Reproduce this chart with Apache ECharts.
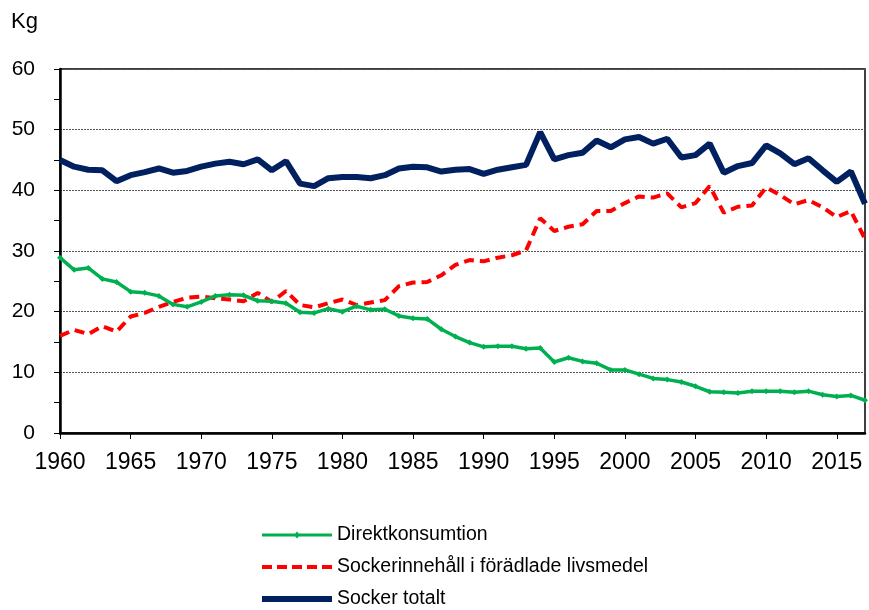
<!DOCTYPE html>
<html>
<head>
<meta charset="utf-8">
<script src="https://cdn.jsdelivr.net/npm/echarts@6/dist/echarts.min.js"></script>
<style>
  html, body { margin: 0; padding: 0; background: #fff; }
  #chart { width: 869px; height: 610px; }
</style>
</head>
<body>
<div id="chart"></div>
<script>
// years 1960..2017
const years = [];
for (let y = 1960; y <= 2017; y++) years.push(String(y));

// Direktkonsumtion (kg)
const direkt = [
  28.9, 26.9, 27.2, 25.4, 24.9, 23.3, 23.1, 22.6, 21.2, 20.8,
  21.6, 22.6, 22.8, 22.7, 21.8, 21.7, 21.4, 19.9, 19.8, 20.5,
  20.0, 20.9, 20.3, 20.4, 19.3, 18.9, 18.8, 17.1, 15.9, 14.9,
  14.2, 14.3, 14.3, 13.9, 14.0, 11.7, 12.4, 11.8, 11.5, 10.4,
  10.4, 9.7, 9.0, 8.8, 8.4, 7.7, 6.8, 6.7, 6.6, 6.9,
  6.9, 6.9, 6.7, 6.9, 6.3, 6.0, 6.2, 5.4
];

// Sockerinnehåll i förädlade livsmedel (kg)
const foradlade = [
  16.0, 17.0, 16.3, 17.6, 16.7, 19.2, 19.8, 20.8, 21.6, 22.3,
  22.5, 22.2, 22.0, 21.7, 23.1, 21.6, 23.4, 21.1, 20.7, 21.4,
  22.0, 21.1, 21.5, 21.9, 24.2, 24.8, 24.9, 26.0, 27.7, 28.5,
  28.3, 28.9, 29.3, 30.1, 35.4, 33.3, 34.0, 34.4, 36.6, 36.6,
  37.9, 39.0, 38.8, 39.5, 37.2, 37.9, 40.7, 36.3, 37.3, 37.5,
  40.5, 39.2, 37.7, 38.4, 37.2, 35.6, 36.6, 32.0
];

// Socker totalt (kg)
const totalt = [
  45.0, 43.9, 43.4, 43.3, 41.5, 42.5, 43.0, 43.6, 42.9, 43.2,
  43.9, 44.4, 44.7, 44.3, 45.1, 43.3, 44.8, 41.1, 40.7, 42.0,
  42.2, 42.2, 42.0, 42.5, 43.6, 43.9, 43.8, 43.1, 43.4, 43.5,
  42.7, 43.4, 43.8, 44.2, 49.6, 45.1, 45.8, 46.2, 48.2, 47.1,
  48.4, 48.8, 47.7, 48.5, 45.4, 45.8, 47.7, 42.9, 44.0, 44.5,
  47.4, 46.1, 44.3, 45.3, 43.3, 41.4, 43.1, 37.8
];

const seriesNames = ['Direktkonsumtion', 'Sockerinnehåll i förädlade livsmedel', 'Socker totalt'];
const colors = ['#00B050', '#FF0000', '#002060'];

// legend icons (line samples) as paths
const greenIcon = 'path://M0,5.5L70,5.5L70,8.5L0,8.5Z M35,3.5L38,7L35,10.5L32,7Z';
let redIcon = 'path://';
for (let x = 0; x < 70; x += 15) {
  const e = Math.min(x + 10, 70);
  redIcon += 'M' + x + ',5L' + e + ',5L' + e + ',9L' + x + ',9Z ';
}
const navyIcon = 'path://M0,4L70,4L70,10L0,10Z';

const chart = echarts.init(document.getElementById('chart'));
const font = 'Liberation Sans, Arial, sans-serif';

chart.setOption({
  animation: false,
  backgroundColor: '#fff',
  title: {
    text: 'Kg',
    left: 6,
    top: 6,
    textStyle: { fontFamily: font, fontSize: 22, fontWeight: 'normal', color: '#000' }
  },
  grid: {
    left: 60, right: 4, top: 69, bottom: 177,
    show: true, borderColor: '#000', borderWidth: 1.5
  },
  legend: {
    orient: 'vertical',
    left: 262,
    top: 525,
    padding: 0,
    itemGap: 12,
    itemWidth: 70,
    itemHeight: 14,
    symbolKeepAspect: true,
    data: [
      { name: seriesNames[0], icon: greenIcon, itemStyle: { color: colors[0], borderWidth: 0 } },
      { name: seriesNames[1], icon: redIcon, itemStyle: { color: colors[1], borderWidth: 0 } },
      { name: seriesNames[2], icon: navyIcon, itemStyle: { color: colors[2], borderWidth: 0 } }
    ],
    textStyle: { fontFamily: font, fontSize: 19.5, lineHeight: 20, color: '#000' }
  },
  xAxis: {
    type: 'category',
    data: years,
    boundaryGap: false,
    axisLine: { lineStyle: { color: '#000', width: 2.5 } },
    axisTick: { interval: 4, length: 6, lineStyle: { color: '#000' } },
    axisLabel: { interval: 4, fontFamily: font, fontSize: 23, color: '#000', margin: 18 },
    splitLine: { show: false }
  },
  yAxis: {
    type: 'value',
    min: 0, max: 60, interval: 10,
    axisLine: { show: true, lineStyle: { color: '#000', width: 2.5 } },
    axisTick: { show: true, length: 6, lineStyle: { color: '#000' } },
    minorTick: { show: true, splitNumber: 2, length: 6, lineStyle: { color: '#000' } },
    axisLabel: { fontFamily: font, fontSize: 21, color: '#000', margin: 25 },
    splitLine: { show: true, lineStyle: { color: '#555', type: [2, 1], width: 1 } }
  },
  series: [
    {
      name: seriesNames[0],
      type: 'line',
      data: direkt,
      symbol: 'diamond',
      symbolSize: 6,
      showSymbol: true,
      itemStyle: { color: colors[0] },
      lineStyle: { color: colors[0], width: 3.5 },
      z: 3
    },
    {
      name: seriesNames[1],
      type: 'line',
      data: foradlade,
      showSymbol: false,
      symbol: 'none',
      itemStyle: { color: colors[1] },
      lineStyle: { color: colors[1], width: 4, type: [10, 6] },
      z: 2
    },
    {
      name: seriesNames[2],
      type: 'line',
      data: totalt,
      showSymbol: false,
      symbol: 'none',
      itemStyle: { color: colors[2] },
      lineStyle: { color: colors[2], width: 6 },
      z: 1
    }
  ]
});
</script>
</body>
</html>
